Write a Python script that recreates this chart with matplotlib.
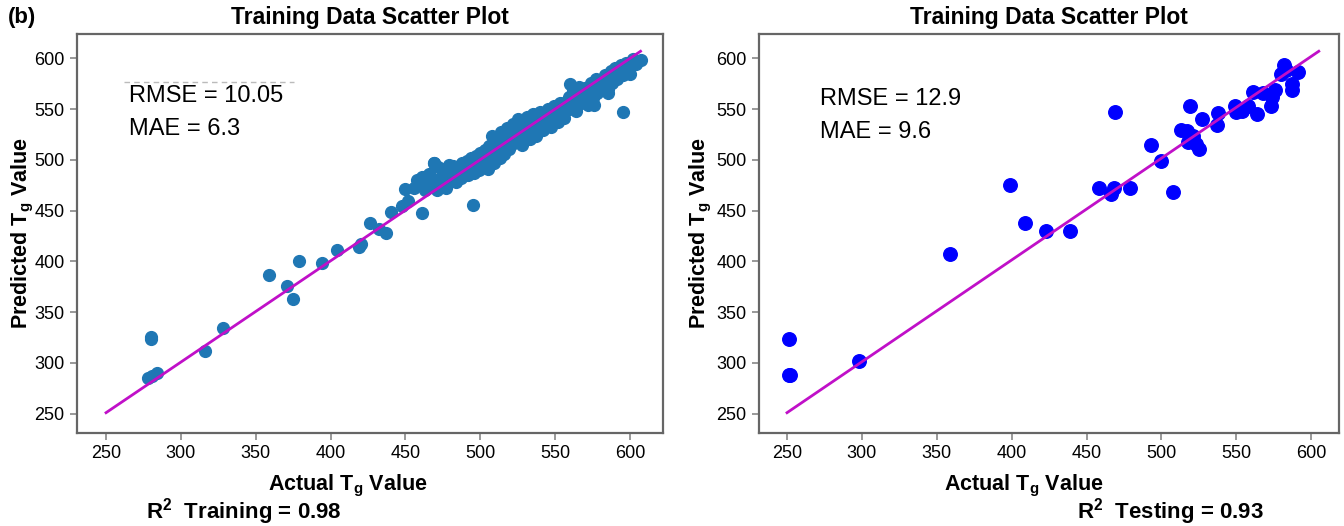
import matplotlib
matplotlib.use("Agg")
import matplotlib.pyplot as plt

# training set: actual vs predicted Tg
train_actual = [280, 280, 278, 281, 284, 316, 328, 359, 371, 375, 379, 394, 404, 419, 420,
                426, 432, 437, 440, 448, 450, 452, 461, 495, 469, 595, 576, 585, 607,
                456, 458, 459, 461, 463, 464, 466, 467, 469, 470, 471, 472, 474, 475, 476,
                477, 479, 480, 482, 483, 484, 486, 487, 488, 490, 491, 492, 494, 495, 496,
                497, 498, 499, 500, 501, 502, 503, 504, 505, 506, 507, 508, 509, 510, 511,
                512, 513, 514, 515, 516, 517, 518, 519, 520, 521, 522, 523, 524, 525, 526,
                527, 528, 529, 530, 531, 532, 533, 534, 535, 536, 537, 538, 539, 540, 541,
                542, 543, 544, 545, 546, 547, 548, 549, 550, 551, 552, 553, 554, 555, 556,
                557, 558, 559, 560, 561, 562, 563, 564, 565, 566, 567, 568, 569, 570, 571,
                572, 573, 574, 575, 576, 577, 578, 579, 580, 581, 582, 583, 584, 585, 586,
                587, 588, 589, 590, 591, 592, 594, 595, 596, 597, 598, 599, 600, 602, 604]
train_pred = [324, 326, 285, 287, 290, 312, 334, 387, 376, 363, 400, 398, 411, 414, 417,
              438, 432, 428, 449, 455, 471, 460, 448, 456, 497, 547, 554, 566, 598,
              472, 480, 475, 483, 470, 478, 486, 474, 497, 480, 470, 493, 477, 485, 491,
              472, 495, 482, 494, 488, 478, 492, 482, 497, 489, 499, 485, 502, 493, 487,
              504, 496, 490, 507, 499, 494, 510, 501, 491, 514, 504, 524, 497, 517, 509,
              522, 502, 527, 513, 506, 520, 531, 511, 525, 516, 535, 519, 528, 540, 522,
              533, 515, 538, 526, 542, 530, 521, 537, 545, 531, 524, 541, 534, 547, 538,
              529, 544, 536, 550, 540, 532, 546, 553, 541, 548, 537, 556, 545, 551, 541,
              557, 549, 562, 575, 552, 568, 558, 548, 563, 572, 556, 566, 560, 571, 563,
              554, 568, 576, 561, 572, 580, 566, 574, 569, 579, 573, 584, 577, 570, 582,
              588, 576, 584, 591, 580, 586, 593, 584, 589, 595, 587, 592, 585, 599, 594]

# testing set
test_actual = [251, 251, 252, 298, 359, 399, 409, 423, 439, 458, 466, 468, 479, 469, 493,
               500, 508, 513, 517, 519, 518, 521, 523, 525, 527, 537, 538, 549, 550, 554,
               558, 561, 564, 568, 573, 574, 576, 580, 582, 583, 587, 587, 591]
test_pred = [324, 288, 288, 302, 407, 475, 438, 430, 430, 472, 466, 472, 472, 547, 515,
             499, 468, 529, 528, 553, 518, 524, 516, 511, 540, 534, 546, 553, 547, 548,
             553, 567, 545, 566, 553, 562, 569, 585, 593, 589, 575, 569, 587]

line_x = [250, 607]
line_y = [251, 607]

xticks = [250, 300, 350, 400, 450, 500, 550, 600]
yticks = [250, 300, 350, 400, 450, 500, 550, 600]

plt.rcParams["mathtext.default"] = "regular"

fig = plt.figure(figsize=(13.44, 5.26), dpi=100)
W, H = 1344, 526
ax1 = fig.add_axes([77 / W, (H - 433) / H, 586 / W, 399 / H])
ax2 = fig.add_axes([759 / W, (H - 433) / H, 580 / W, 399 / H])

bold = dict(family="Liberation Sans", weight="bold")

def style(ax, xlim):
    ax.set_xlim(*xlim)
    ax.set_ylim(231, 624)
    ax.set_xticks(xticks)
    ax.set_yticks(yticks)
    for sp in ax.spines.values():
        sp.set_color("#666666")
        sp.set_linewidth(1.6)
    ax.tick_params(length=5, width=1.2, color="#888888", labelsize=13, pad=4)
    for lab in ax.get_xticklabels() + ax.get_yticklabels():
        lab.set_family("Liberation Sans")
    ax.set_title("Training Data Scatter Plot", fontsize=16.5, pad=7, **bold)
    ax.set_xlabel("Actual T$_{g}$ Value", fontsize=15.5, labelpad=6, **bold)
    ax.set_ylabel("Predicted T$_{g}$ Value", fontsize=15.5, **bold)

ax1.scatter(train_actual, train_pred, s=72, color="#1f77b4", zorder=2)
ax1.plot(line_x, line_y, color="#c010c8", lw=2, zorder=3)
style(ax1, (230.6, 622))
ax1.yaxis.set_label_coords(-0.07, 0.5)
ax1.xaxis.set_label_coords(0.4625, -0.1)
ax1.text(0.088, 0.845, "RMSE = 10.05", transform=ax1.transAxes, fontsize=17,
         family="Liberation Sans", va="center")
ax1.text(0.088, 0.762, "MAE = 6.3", transform=ax1.transAxes, fontsize=17,
         family="Liberation Sans", va="center")
ax1.plot([0.08, 0.37], [0.879, 0.879], transform=ax1.transAxes, color="#bbbbbb",
         lw=1, ls=(0, (4, 3)))

ax2.scatter(test_actual, test_pred, s=95, color="#0000ff", zorder=2)
ax2.plot([250, 605], line_y, color="#c010c8", lw=2, zorder=3)
style(ax2, (231.3, 618.5))
ax2.yaxis.set_label_coords(-0.077, 0.5)
ax2.xaxis.set_label_coords(0.457, -0.1)
ax2.text(0.105, 0.837, "RMSE = 12.9", transform=ax2.transAxes, fontsize=17,
         family="Liberation Sans", va="center")
ax2.text(0.105, 0.754, "MAE = 9.6", transform=ax2.transAxes, fontsize=17,
         family="Liberation Sans", va="center")

fig.text(8 / W, 1 - 18 / H, "(b)", fontsize=16, va="center", **bold)
fig.text(244 / W, 1 - 512 / H, "R$^{2}$  Training = 0.98", fontsize=16,
         ha="center", va="center", **bold)
fig.text(1170 / W, 1 - 512 / H, "R$^{2}$  Testing = 0.93", fontsize=16,
         ha="center", va="center", **bold)

fig.savefig("out.png", dpi=100)
